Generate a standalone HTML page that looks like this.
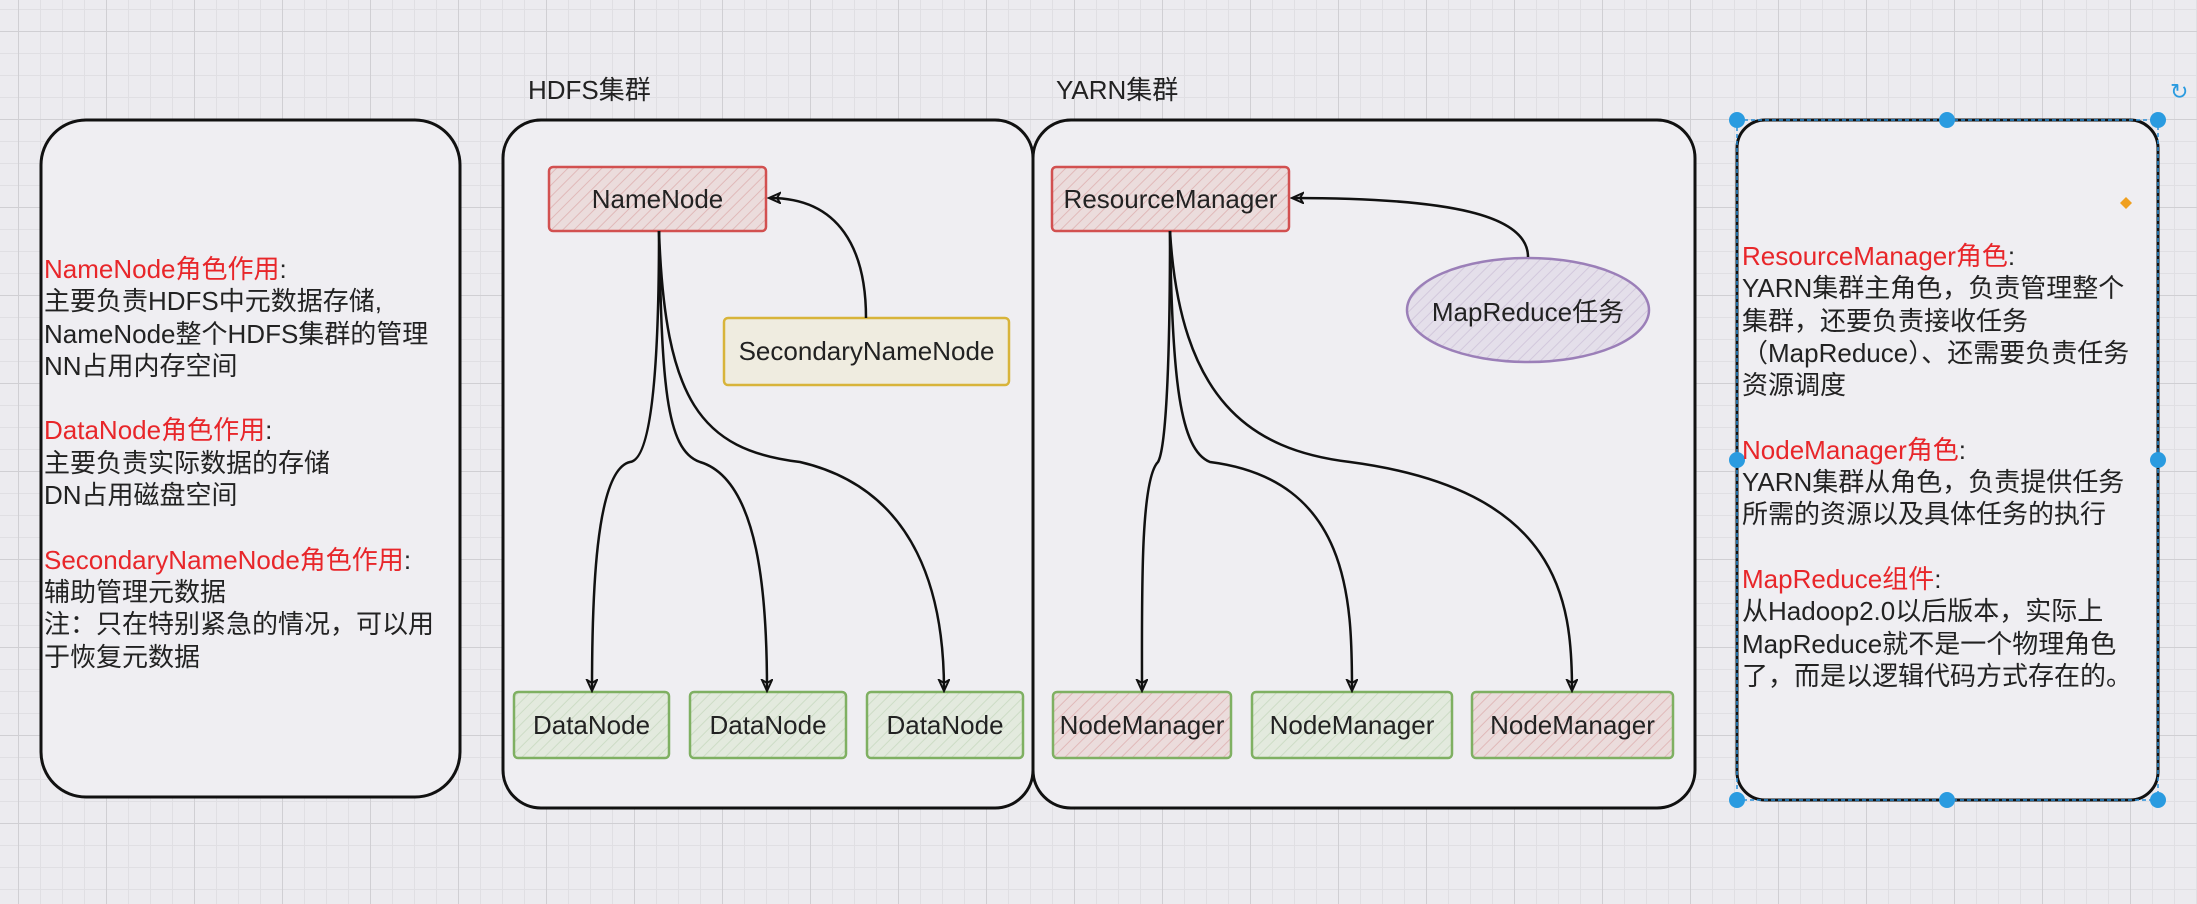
<!DOCTYPE html>
<html><head><meta charset="utf-8"><style>
body{margin:0;width:2197px;height:904px;overflow:hidden;background:#ecebef;
background-image:linear-gradient(#d0cfd3 1px,transparent 1px),linear-gradient(90deg,#d0cfd3 1px,transparent 1px),linear-gradient(#e0dfe3 1px,transparent 1px),linear-gradient(90deg,#e0dfe3 1px,transparent 1px);
background-size:88px 88px,88px 88px,22px 22px,22px 22px;background-position:0 31px,18px 0,0 9px,18px 0;
font-family:"Liberation Sans","Noto Sans CJK SC",sans-serif;position:relative}
.t{position:absolute;font-size:26px;color:#222;line-height:32.3px;white-space:nowrap}
.r{color:#e8262a}
.lbl{position:absolute;font-size:26px;color:#222}
.n{position:absolute;display:flex;align-items:center;justify-content:center;font-size:26px;color:#222;box-sizing:border-box;border-radius:4px;white-space:nowrap}
</style></head><body>
<svg width="2197" height="904" style="position:absolute;left:0;top:0">
<defs>
<pattern id="hr" width="8" height="8" patternUnits="userSpaceOnUse" patternTransform="rotate(45)"><rect width="8" height="8" fill="#ebdcdc"/><line x1="0" y1="0" x2="0" y2="8" stroke="#e0b9b9" stroke-width="2"/></pattern>
<pattern id="hg" width="8" height="8" patternUnits="userSpaceOnUse" patternTransform="rotate(45)"><rect width="8" height="8" fill="#e3eade"/><line x1="0" y1="0" x2="0" y2="8" stroke="#cddcc6" stroke-width="2"/></pattern>
<pattern id="hy" width="8" height="8" patternUnits="userSpaceOnUse" patternTransform="rotate(45)"><rect width="8" height="8" fill="#efece0"/></pattern>
<pattern id="hp" width="8" height="8" patternUnits="userSpaceOnUse" patternTransform="rotate(45)"><rect width="8" height="8" fill="#e4dfea"/><line x1="0" y1="0" x2="0" y2="8" stroke="#d2c8dc" stroke-width="2"/></pattern>
<marker id="a" markerWidth="14" markerHeight="14" refX="11" refY="6" orient="auto" markerUnits="userSpaceOnUse"><path d="M1,1 L12,6 L1,11 L4,6 Z" fill="none" stroke="#111" stroke-width="2"/></marker>
</defs>
<g fill="#efeef2" stroke="#111" stroke-width="3">
<rect x="41" y="120" width="419" height="677" rx="45"/>
<rect x="503" y="120" width="530" height="688" rx="38"/>
<rect x="1033" y="120" width="662" height="688" rx="38"/>
<rect x="1737" y="120" width="421" height="680" rx="28"/>
</g>
<rect x="1737" y="120" width="421" height="680" fill="none" stroke="#2a8fd8" stroke-width="1.5" stroke-dasharray="4 3"/>
<g fill="#2a9be0">
<circle cx="1737" cy="120" r="8"/><circle cx="1947" cy="120" r="8"/><circle cx="2158" cy="120" r="8"/>
<circle cx="1737" cy="460" r="8"/><circle cx="2158" cy="460" r="8"/>
<circle cx="1737" cy="800" r="8"/><circle cx="1947" cy="800" r="8"/><circle cx="2158" cy="800" r="8"/>
</g>
<path d="M2126,197 l6,6 l-6,6 l-6,-6z" fill="#f0a020"/>
<text x="2170" y="99" font-size="22" fill="#2a9be0">↻</text>
<rect x="549" y="167" width="217" height="64" rx="4" fill="url(#hr)" stroke="#d25050" stroke-width="2.5"/>
<rect x="724" y="318" width="285" height="67" rx="4" fill="url(#hy)" stroke="#d8b43a" stroke-width="2.5"/>
<rect x="514" y="692" width="155" height="66" rx="4" fill="url(#hg)" stroke="#7fb062" stroke-width="2.5"/>
<rect x="690" y="692" width="156" height="66" rx="4" fill="url(#hg)" stroke="#7fb062" stroke-width="2.5"/>
<rect x="867" y="692" width="156" height="66" rx="4" fill="url(#hg)" stroke="#7fb062" stroke-width="2.5"/>
<rect x="1052" y="167" width="237" height="64" rx="4" fill="url(#hr)" stroke="#d25050" stroke-width="2.5"/>
<ellipse cx="1528" cy="310" rx="121" ry="52" fill="url(#hp)" stroke="#9b7fb8" stroke-width="2.5"/>
<rect x="1053" y="692" width="178" height="66" rx="4" fill="url(#hr)" stroke="#7fb062" stroke-width="2.5"/>
<rect x="1252" y="692" width="200" height="66" rx="4" fill="url(#hg)" stroke="#7fb062" stroke-width="2.5"/>
<rect x="1472" y="692" width="201" height="66" rx="4" fill="url(#hr)" stroke="#7fb062" stroke-width="2.5"/>
<g fill="none" stroke="#111" stroke-width="2.5">
<path d="M659,231 C659,380 650,460 630,462 C595,470 592,600 592,690" marker-end="url(#a)"/>
<path d="M659,231 C662,380 665,450 700,462 C760,480 767,600 767,690" marker-end="url(#a)"/>
<path d="M659,231 C665,400 700,450 800,462 C920,490 944,600 944,690" marker-end="url(#a)"/>
<path d="M866,318 C866,250 840,198 770,198" marker-end="url(#a)"/>
<path d="M1170,231 C1170,380 1165,450 1158,462 C1140,480 1142,600 1142,690" marker-end="url(#a)"/>
<path d="M1170,231 C1172,380 1180,450 1210,462 C1350,480 1352,600 1352,690" marker-end="url(#a)"/>
<path d="M1170,231 C1180,400 1250,450 1350,462 C1560,490 1572,600 1572,690" marker-end="url(#a)"/>
<path d="M1528,257 C1528,215 1450,198 1293,198" marker-end="url(#a)"/>
</g>
</svg>
<div class="lbl" style="left:528px;top:70px">HDFS集群</div>
<div class="lbl" style="left:1056px;top:70px">YARN集群</div>
<div class="n" style="left:549px;top:167px;width:217px;height:64px">NameNode</div>
<div class="n" style="left:724px;top:318px;width:285px;height:67px">SecondaryNameNode</div>
<div class="n" style="left:514px;top:692px;width:155px;height:66px">DataNode</div>
<div class="n" style="left:690px;top:692px;width:156px;height:66px">DataNode</div>
<div class="n" style="left:867px;top:692px;width:156px;height:66px">DataNode</div>
<div class="n" style="left:1052px;top:167px;width:237px;height:64px">ResourceManager</div>
<div class="n" style="left:1407px;top:278px;width:242px;height:64px">MapReduce任务</div>
<div class="n" style="left:1053px;top:692px;width:178px;height:66px">NodeManager</div>
<div class="n" style="left:1252px;top:692px;width:200px;height:66px">NodeManager</div>
<div class="n" style="left:1472px;top:692px;width:201px;height:66px">NodeManager</div>
<div class="t" style="left:44px;top:253px"><span class="r">NameNode角色作用</span>:<br>主要负责HDFS中元数据存储,<br>NameNode整个HDFS集群的管理<br>NN占用内存空间<br><br><span class="r">DataNode角色作用</span>:<br>主要负责实际数据的存储<br>DN占用磁盘空间<br><br><span class="r">SecondaryNameNode角色作用</span>:<br>辅助管理元数据<br>注：只在特别紧急的情况，可以用<br>于恢复元数据</div>
<div class="t" style="left:1742px;top:240px"><span class="r">ResourceManager角色</span>:<br>YARN集群主角色，负责管理整个<br>集群，还要负责接收任务<br>（MapReduce）、还需要负责任务<br>资源调度<br><br><span class="r">NodeManager角色</span>:<br>YARN集群从角色，负责提供任务<br>所需的资源以及具体任务的执行<br><br><span class="r">MapReduce组件</span>:<br>从Hadoop2.0以后版本，实际上<br>MapReduce就不是一个物理角色<br>了，而是以逻辑代码方式存在的。</div>
</body></html>
